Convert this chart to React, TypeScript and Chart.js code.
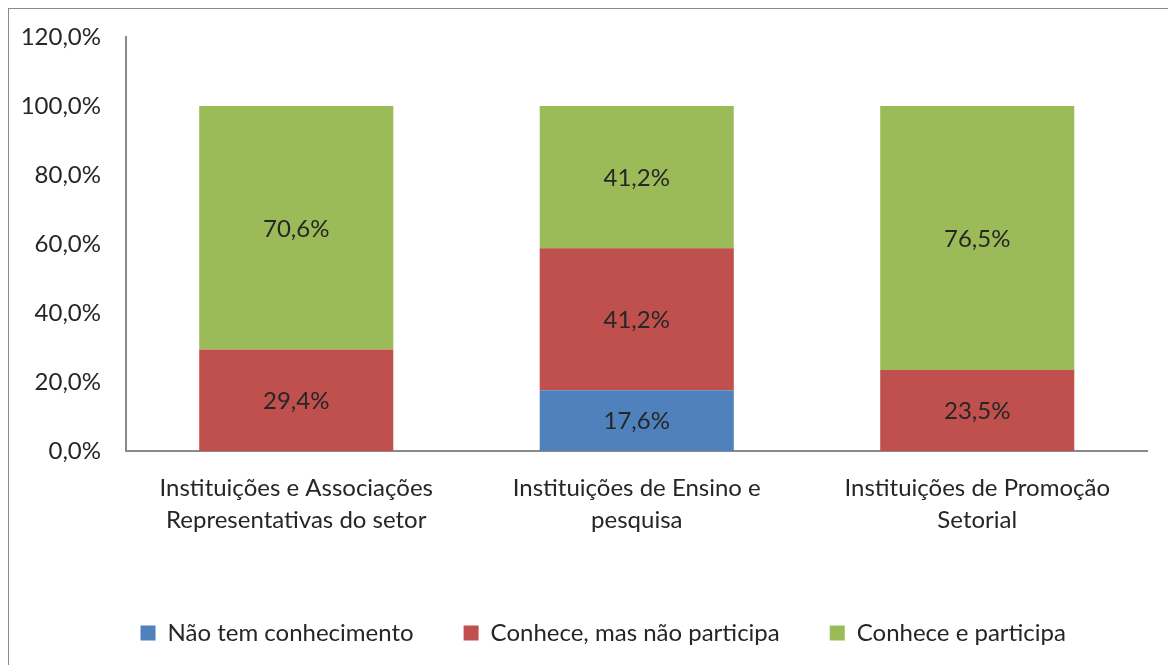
import React, { useEffect, useRef } from 'react';
import { Chart, registerables } from 'chart.js';

Chart.register(...registerables);

const categories: string[][] = [
  ['Instituições e Associações', 'Representativas do setor'],
  ['Instituições de Ensino e', 'pesquisa'],
  ['Instituições de Promoção', 'Setorial'],
];
const seriesNames = ['Não tem conhecimento', 'Conhece, mas não participa', 'Conhece e participa'];
const naoTemConhecimento = [0, 17.6, 0];
const conheceNaoParticipa = [29.4, 41.2, 23.5];
const conheceParticipa = [70.6, 41.2, 76.5];
const yMax = 120;
const yStep = 20;

const FONT = 'Lato, "Open Sans", sans-serif';
const TEXT = '#262626';
const AXIS = '#8a8a8a';
const FS = 24;

const fmt = (v: number) => v.toFixed(1).replace('.', ',') + '%';

const dataLabels = {
  id: 'dataLabels',
  afterDatasetsDraw(chart: any) {
    const ctx = chart.ctx;
    ctx.save();
    ctx.font = `${FS}px ${FONT}`;
    ctx.fillStyle = TEXT;
    ctx.textAlign = 'center';
    ctx.textBaseline = 'middle';
    chart.data.datasets.forEach((ds: any, i: number) => {
      const meta = chart.getDatasetMeta(i);
      meta.data.forEach((el: any, j: number) => {
        const v = ds.data[j];
        if (!v) return;
        const p = el.getProps(['x', 'y', 'base'], true);
        ctx.fillText(fmt(v), p.x, (p.y + p.base) / 2 + 1);
      });
    });
    ctx.restore();
  },
};

// shift the legend block to the right so it is centred like the original
const legendShift = {
  id: 'legendShift',
  afterLayout(chart: any) {
    const l = chart.legend;
    if (l) {
      l.left += 25;
      l.right += 25;
    }
  },
};

export default function App() {
  const ref = useRef<HTMLCanvasElement | null>(null);
  useEffect(() => {
    document.documentElement.style.overflow = 'hidden';
    const canvas = ref.current!;
    const chart = new Chart(canvas, {
      type: 'bar',
      data: {
        labels: categories,
        datasets: [
          { label: seriesNames[0], data: naoTemConhecimento, backgroundColor: '#4F81BD' },
          { label: seriesNames[1], data: conheceNaoParticipa, backgroundColor: '#C0504D' },
          { label: seriesNames[2], data: conheceParticipa, backgroundColor: '#9BBB59' },
        ],
      },
      options: {
        responsive: false,
        animation: false,
        devicePixelRatio: 1,
        layout: { padding: { left: 0, right: 28.5, top: 28, bottom: 10 } },
        datasets: { bar: { barPercentage: 0.57, categoryPercentage: 1 } },
        scales: {
          x: {
            stacked: true,
            grid: { display: false, drawTicks: false },
            border: { display: true, color: AXIS, width: 2 },
            ticks: { color: TEXT, font: { family: FONT, size: FS, lineHeight: 1.333 }, padding: 21, maxRotation: 0, autoSkip: false },
            afterFit: (s: any) => { s.height = 120; },
          },
          y: {
            stacked: true,
            min: 0,
            max: yMax,
            grid: { display: false, drawTicks: false },
            border: { display: true, color: AXIS, width: 2 },
            ticks: { stepSize: yStep, color: TEXT, font: { family: FONT, size: FS }, padding: 25, callback: (v: any) => fmt(Number(v)) },
            afterFit: (s: any) => {
              s.width = 117;
              s.paddingTop = 0;
              s.paddingBottom = 0;
            },
          },
        },
        plugins: {
          legend: {
            position: 'bottom',
            labels: { boxWidth: 15, boxHeight: 15, padding: 50, color: TEXT, font: { family: FONT, size: FS } },
          },
          tooltip: { enabled: false },
        },
      },
      plugins: [dataLabels, legendShift],
    } as any);
    return () => chart.destroy();
  }, []);
  return (
    <div
      style={{
        position: 'relative',
        width: 1168,
        height: 657,
        borderLeft: `1px solid ${AXIS}`,
        borderTop: `1px solid ${AXIS}`,
        boxSizing: 'border-box',
      }}
    >
      <canvas ref={ref} width={1167} height={656} style={{ display: 'block', width: 1167, height: 656 }} />
    </div>
  );
}
